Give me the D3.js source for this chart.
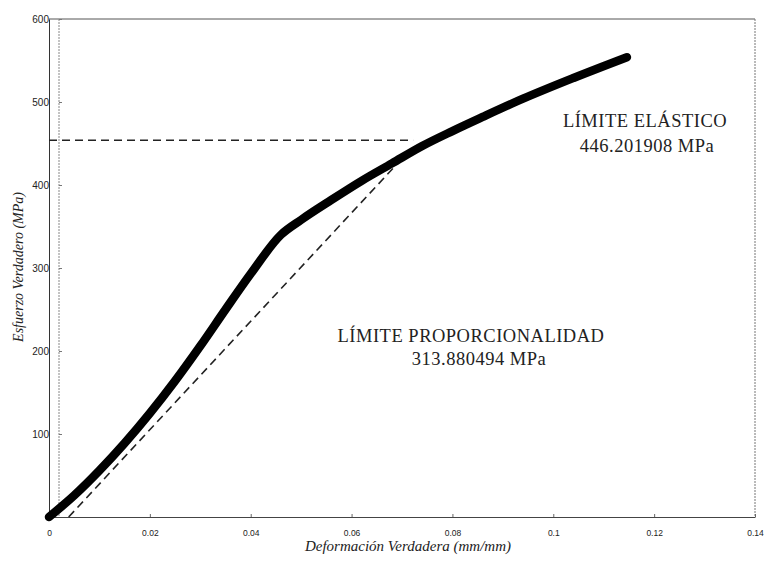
<!DOCTYPE html>
<html>
<head>
<meta charset="utf-8">
<script src="https://cdn.jsdelivr.net/npm/d3@7"></script>
<style>
  body { margin: 0; background: #fff; }
  svg { display: block; }
</style>
</head>
<body>
<div id="viz"></div>
<script>
// curva esfuerzo-deformacion
var strain = [0, 0.005, 0.010, 0.015, 0.020, 0.025, 0.030, 0.035, 0.040, 0.046, 0.050,
              0.056, 0.062, 0.068, 0.074, 0.080, 0.086, 0.094, 0.104, 0.1146];
var stress = [0, 26, 56, 89, 125, 164, 206, 250, 293, 340, 358,
              382, 405, 426, 447, 465, 482, 504, 529, 554];

// lineas de trazos (limite elastico / offset)
var elasticX = [0, 0.0722],
    elasticY = [454, 454];
var offsetX = [0.0039, 0.0708],
    offsetY = [0, 437];

var xTicks = [0, 0.02, 0.04, 0.06, 0.08, 0.1, 0.12, 0.14],
    xTickLabels = ['0', '0.02', '0.04', '0.06', '0.08', '0.1', '0.12', '0.14'];
var yTicks = [100, 200, 300, 400, 500, 600];

var width = 771,
    height = 564,
    plotLeft = 49,
    plotRight = 755,
    plotTop = 19,
    plotBottom = 517;

var xScale = d3.scaleLinear().domain([0, 0.14]).range([plotLeft, plotRight]);
var yScale = d3.scaleLinear().domain([0, 600]).range([plotBottom, plotTop]);

var svg = d3.select('#viz').append('svg')
  .attr('width', width)
  .attr('height', height);

// marco
svg.append('line')
  .attr('x1', plotLeft).attr('x2', plotRight)
  .attr('y1', plotTop).attr('y2', plotTop)
  .attr('stroke', '#555').attr('stroke-width', 1);
svg.append('line')
  .attr('x1', plotRight).attr('x2', plotRight)
  .attr('y1', plotTop).attr('y2', plotBottom)
  .attr('stroke', '#777').attr('stroke-width', 1)
  .attr('stroke-dasharray', '2,1');
svg.append('line')
  .attr('x1', plotLeft + 10).attr('x2', plotLeft + 10)
  .attr('y1', plotTop).attr('y2', plotBottom)
  .attr('stroke', '#888').attr('stroke-width', 1)
  .attr('stroke-dasharray', '2,1');

// eje x
var xAxis = svg.append('g')
  .attr('transform', 'translate(0,' + plotBottom + ')')
  .call(d3.axisBottom(xScale)
    .tickValues(xTicks)
    .tickFormat(function(d, i) { return xTickLabels[i]; })
    .tickSize(-3)
    .tickSizeOuter(0)
    .tickPadding(13));
xAxis.select('.domain').attr('stroke', '#444');
xAxis.selectAll('.tick line').attr('stroke', '#666');
xAxis.selectAll('text')
  .attr('fill', '#222')
  .style('font-family', 'Liberation Sans, Arial, sans-serif')
  .style('font-size', '8.5px');

// eje y
var yAxis = svg.append('g')
  .attr('transform', 'translate(' + plotLeft + ',0)')
  .call(d3.axisLeft(yScale)
    .tickValues(yTicks)
    .tickSize(0)
    .tickSizeOuter(0)
    .tickPadding(0));
yAxis.select('.domain').attr('stroke', '#333');
yAxis.selectAll('text')
  .attr('fill', '#222')
  .style('font-family', 'Liberation Sans, Arial, sans-serif')
  .style('font-size', '10px');

var yMarks = svg.append('g')
  .attr('transform', 'translate(' + (plotLeft + 10) + ',0)')
  .call(d3.axisLeft(yScale)
    .tickValues(yTicks)
    .tickSize(-3)
    .tickFormat(''));
yMarks.select('.domain').remove();
yMarks.selectAll('.tick line').attr('stroke', '#777');

// titulos de ejes
svg.append('text')
  .attr('x', 408).attr('y', 551)
  .attr('text-anchor', 'middle')
  .style('font-family', 'Liberation Serif, Times New Roman, serif')
  .style('font-style', 'italic')
  .style('font-size', '15px')
  .attr('fill', '#222')
  .text('Deformación Verdadera (mm/mm)');

svg.append('text')
  .attr('transform', 'translate(23,267) rotate(-90)')
  .attr('text-anchor', 'middle')
  .style('font-family', 'Liberation Serif, Times New Roman, serif')
  .style('font-style', 'italic')
  .style('font-size', '14px')
  .attr('fill', '#222')
  .text('Esfuerzo Verdadero (MPa)');

// lineas de trazos
var line = d3.line()
  .x(function(d) { return xScale(d[0]); })
  .y(function(d) { return yScale(d[1]); });

svg.append('path')
  .datum(d3.zip(elasticX, elasticY))
  .attr('d', line)
  .attr('fill', 'none')
  .attr('stroke', '#222')
  .attr('stroke-width', 1.6)
  .attr('stroke-dasharray', '8,5');

svg.append('path')
  .datum(d3.zip(offsetX, offsetY))
  .attr('d', line)
  .attr('fill', 'none')
  .attr('stroke', '#222')
  .attr('stroke-width', 1.6)
  .attr('stroke-dasharray', '8,5');

// curva
svg.append('path')
  .datum(d3.zip(strain, stress))
  .attr('d', line.curve(d3.curveMonotoneX))
  .attr('fill', 'none')
  .attr('stroke', '#000')
  .attr('stroke-width', 8.5)
  .attr('stroke-linecap', 'round')
  .attr('stroke-linejoin', 'round');

// anotaciones
var serif = 'Liberation Serif, Times New Roman, serif';
function note(x, y, txt) {
  svg.append('text')
    .attr('x', x).attr('y', y)
    .attr('text-anchor', 'middle')
    .style('font-family', serif)
    .style('font-size', '18.5px')
    .style('letter-spacing', '0.5px')
    .attr('fill', '#222')
    .text(txt);
}
note(645, 127, 'LÍMITE ELÁSTICO');
note(647, 152, '446.201908 MPa');
note(471, 342, 'LÍMITE PROPORCIONALIDAD');
note(479, 365, '313.880494 MPa');
</script>
</body>
</html>
